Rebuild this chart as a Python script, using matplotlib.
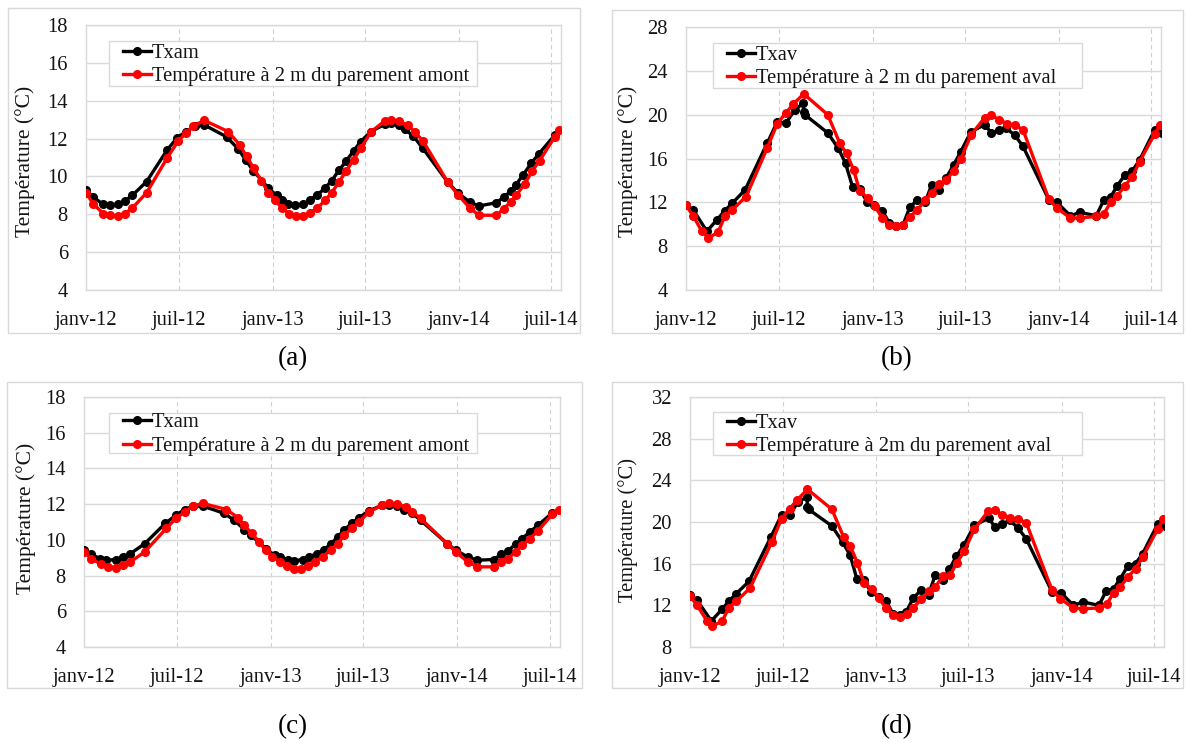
import numpy as np
import matplotlib
matplotlib.use("Agg")
import matplotlib.pyplot as plt
import matplotlib.dates as mdates
from matplotlib.patches import Rectangle
from matplotlib.ticker import FuncFormatter, MultipleLocator

plt.rcParams["font.family"] = ["Liberation Serif", "DejaVu Serif"]

# ---- data: days counted from 1 Jan 2012, temperatures in degC ----
# (a) upstream face, case 1
a_txam_days = [0, 14, 34, 47, 63, 76, 91, 119, 159, 178, 196, 214, 232, 276, 299, 313, 328, 358,
               374, 384, 397, 410, 426, 439, 454, 469, 482, 497, 511, 525, 539, 559, 586, 599,
               614, 625, 642, 661, 710, 730, 753, 771, 805, 820, 833, 844, 858, 874, 889, 920]
a_txam = [9.26, 8.91, 8.52, 8.47, 8.52, 8.70, 9.00, 9.73, 11.39, 12.02, 12.37, 12.66, 12.72, 12.09,
          11.44, 10.88, 10.31, 9.38, 9.00, 8.77, 8.52, 8.47, 8.52, 8.77, 9.03, 9.38, 9.78, 10.34,
          10.83, 11.35, 11.84, 12.37, 12.75, 12.80, 12.72, 12.49, 12.14, 11.48, 9.69, 9.12, 8.65,
          8.44, 8.61, 8.91, 9.21, 9.57, 10.10, 10.71, 11.21, 12.19]
a_amont_days = [0, 14, 34, 47, 63, 76, 91, 119, 159, 181, 196, 210, 232, 279, 302, 315, 329, 344,
                358, 371, 385, 399, 413, 426, 439, 454, 469, 482, 497, 511, 525, 539, 559, 586,
                599, 614, 632, 645, 661, 710, 730, 753, 771, 805, 820, 833, 844, 861, 876, 890,
                920, 929]
a_amont = [9.14, 8.56, 8.03, 7.95, 7.91, 8.03, 8.33, 9.14, 10.97, 11.88, 12.28, 12.66, 12.96, 12.37,
           11.65, 11.06, 10.43, 9.78, 9.14, 8.73, 8.33, 8.03, 7.91, 7.91, 8.07, 8.33, 8.73, 9.14,
           9.73, 10.31, 10.88, 11.48, 12.35, 12.93, 12.98, 12.93, 12.70, 12.35, 11.88, 9.69, 9.03,
           8.33, 7.95, 7.95, 8.30, 8.65, 9.00, 9.61, 10.31, 10.83, 12.10, 12.45]

# (b) downstream face, case 1
b_txav_days = [0, 14, 41, 61, 76, 91, 116, 159, 179, 196, 214, 230, 231, 233, 278, 299, 313, 327,
               341, 356, 369, 385, 399, 412, 426, 439, 454, 469, 482, 497, 510, 525, 539, 559,
               586, 599, 614, 627, 645, 661, 712, 728, 754, 773, 805, 820, 833, 846, 861, 876,
               890, 920, 933]
b_txav = [11.72, 11.32, 9.36, 10.42, 11.23, 11.93, 13.14, 17.37, 19.33, 19.24, 20.45, 21.06, 20.24,
          20.00, 18.34, 16.92, 15.56, 13.38, 13.20, 11.99, 11.78, 11.23, 10.12, 9.81, 9.96, 11.54,
          12.23, 11.99, 13.59, 13.14, 14.20, 15.40, 16.61, 18.43, 19.09, 18.34, 18.58, 18.82,
          18.13, 17.13, 12.23, 11.99, 10.78, 11.08, 10.78, 12.23, 12.47, 13.50, 14.50, 14.89,
          15.86, 18.64, 18.34]
b_aval_days = [0, 14, 31, 44, 63, 76, 91, 118, 159, 179, 196, 210, 231, 278, 302, 315, 329, 341,
               358, 371, 385, 399, 412, 426, 439, 454, 469, 482, 497, 511, 525, 539, 559, 586,
               599, 614, 630, 645, 661, 712, 728, 754, 773, 805, 820, 833, 846, 861, 876, 890,
               920, 931]
b_aval = [11.72, 10.78, 9.36, 8.75, 9.27, 10.72, 11.32, 12.53, 16.92, 19.18, 20.15, 20.94, 21.90,
          20.00, 17.37, 16.46, 14.95, 12.99, 12.38, 11.63, 10.57, 9.96, 9.81, 9.96, 10.66, 11.32,
          12.17, 12.84, 13.68, 14.04, 14.89, 15.92, 18.13, 19.73, 19.94, 19.55, 19.18, 19.03,
          18.64, 12.29, 11.47, 10.57, 10.57, 10.72, 10.96, 11.99, 12.59, 13.50, 14.35, 15.71,
          18.28, 19.09]

# (c) upstream face, case 2
c_txam_days = [0, 14, 31, 44, 63, 76, 91, 119, 159, 180, 197, 213, 233, 275, 294, 314, 327, 356,
               373, 383, 399, 412, 428, 441, 456, 470, 483, 497, 509, 524, 539, 558, 584, 597,
               612, 627, 643, 659, 711, 728, 751, 770, 803, 817, 830, 845, 858, 873, 889, 917]
c_txam = [9.42, 9.20, 8.95, 8.86, 8.90, 9.05, 9.23, 9.79, 10.92, 11.38, 11.70, 11.89, 11.89, 11.48,
          11.10, 10.58, 10.26, 9.51, 9.14, 9.05, 8.90, 8.82, 8.90, 9.05, 9.23, 9.46, 9.76, 10.17,
          10.54, 10.92, 11.25, 11.63, 11.94, 11.98, 11.89, 11.70, 11.48, 11.10, 9.79, 9.42, 9.05,
          8.86, 8.90, 9.20, 9.38, 9.76, 10.07, 10.45, 10.82, 11.51]
c_amont_days = [0, 14, 33, 47, 63, 76, 91, 119, 161, 180, 197, 213, 233, 279, 301, 314, 328, 343,
                356, 369, 384, 397, 412, 425, 438, 452, 467, 483, 497, 509, 524, 539, 558, 584,
                597, 612, 630, 643, 659, 711, 728, 751, 770, 803, 817, 830, 845, 858, 873, 889,
                917, 930]
c_amont = [9.33, 8.95, 8.64, 8.49, 8.45, 8.58, 8.77, 9.33, 10.64, 11.20, 11.57, 11.89, 12.04, 11.70,
           11.25, 10.82, 10.36, 9.89, 9.42, 9.05, 8.77, 8.52, 8.39, 8.39, 8.52, 8.77, 9.05, 9.42,
           9.79, 10.26, 10.64, 11.01, 11.57, 11.94, 12.04, 12.00, 11.85, 11.57, 11.20, 9.79, 9.33,
           8.77, 8.49, 8.49, 8.77, 8.95, 9.33, 9.70, 10.07, 10.50, 11.44, 11.70]

# (d) downstream face, case 2
d_txav_days = [0, 14, 42, 63, 76, 91, 116, 159, 180, 196, 212, 230, 231, 233, 279, 300, 315, 328,
               342, 356, 371, 386, 399, 412, 425, 439, 454, 469, 482, 497, 510, 524, 539, 559,
               588, 599, 614, 629, 645, 661, 712, 729, 754, 773, 804, 818, 833, 846, 861, 876,
               890, 920, 933]
d_txav = [13.02, 12.48, 10.50, 11.62, 12.38, 13.12, 14.30, 18.56, 20.70, 20.64, 21.92, 22.40, 21.44,
          21.22, 19.62, 18.08, 16.80, 14.56, 14.40, 13.28, 12.80, 12.38, 11.20, 11.04, 11.36,
          12.70, 13.44, 13.02, 14.88, 14.40, 15.46, 16.74, 17.82, 19.68, 20.38, 19.52, 19.84,
          20.16, 19.42, 18.40, 13.28, 13.22, 12.00, 12.32, 12.00, 13.34, 13.60, 14.56, 15.78,
          16.00, 16.96, 19.84, 19.62]
d_aval_days = [0, 14, 34, 44, 63, 76, 91, 118, 161, 180, 196, 210, 231, 279, 302, 315, 329, 342,
               358, 371, 385, 399, 412, 426, 439, 454, 469, 482, 497, 511, 525, 539, 559, 586,
               599, 614, 630, 645, 661, 712, 728, 754, 773, 805, 820, 833, 846, 861, 876, 890,
               920, 931]
d_aval = [12.90, 12.00, 10.46, 10.02, 10.46, 11.74, 12.38, 13.66, 18.08, 20.32, 21.28, 22.08, 23.14,
          21.22, 18.56, 17.70, 16.10, 14.18, 13.54, 12.70, 11.78, 11.10, 10.88, 11.20, 11.74, 12.58,
          13.34, 13.76, 14.78, 14.88, 16.10, 17.18, 19.30, 21.02, 21.12, 20.70, 20.38, 20.26,
          19.94, 13.44, 12.64, 11.74, 11.68, 11.74, 12.16, 13.22, 13.76, 14.72, 15.52, 16.64,
          19.36, 20.26]

panel_letters = ["(a)", "(b)", "(c)", "(d)"]
ylabel_text = "Température (°C)"
y_ranges = [(4, 18, 2), (4, 28, 4), (4, 18, 2), (8, 32, 4)]
legend_labels = [
    ("Txam", "Température à 2 m du parement amont"),
    ("Txav", "Température à 2 m du parement aval"),
    ("Txam", "Température à 2 m du parement amont"),
    ("Txav", "Température à 2m du parement aval"),
]
series = [
    (a_txam_days, a_txam, a_amont_days, a_amont),
    (b_txav_days, b_txav, b_aval_days, b_aval),
    (c_txam_days, c_txam, c_amont_days, c_amont),
    (d_txav_days, d_txav, d_aval_days, d_aval),
]

START = np.datetime64("2012-01-01")
END_DAY = 932
MONTHS_FR = {1: "janv", 7: "juil"}

W, H = 1186, 742
fig = plt.figure(figsize=(W / 100, H / 100), dpi=100)


def fx(px):
    return px / W


def fy(py):
    return 1 - py / H


# layout in pixels: plot area (left, top, right, bottom), outer frame, legend box, ylabel centre
layouts = [
    dict(plot=(86, 25, 561, 290), frame=(8, 8, 580, 333), leg=(109, 41, 477, 86), ylab=(25, 161), letter=(293, 359), ylfs=15.5),
    dict(plot=(686, 27, 1161, 290), frame=(612, 10, 1183, 333), leg=(713, 43, 1082, 88), ylab=(628, 161), letter=(897, 359), ylfs=15.5),
    dict(plot=(84, 397, 560, 647), frame=(7, 382, 582, 688), leg=(109, 413, 477, 453), ylab=(26, 518), letter=(293, 727), ylfs=15.5),
    dict(plot=(690, 397, 1164, 647), frame=(612, 382, 1183, 688), leg=(713, 412, 1082, 455), ylab=(628, 530), letter=(897, 727), ylfs=14.8),
]

GRID = "#d9d9d9"
TEXT = "#141414"
FS = 14.8


def month_label(x, pos):
    d = mdates.num2date(x)
    return f"{MONTHS_FR.get(d.month, '')}-{d.year % 100:02d}"


for i, lay in enumerate(layouts):
    # outer chart frame
    x0, y0, x1, y1 = lay["frame"]
    fig.patches.append(Rectangle((fx(x0), fy(y1)), fx(x1 - x0), (y1 - y0) / H,
                                 transform=fig.transFigure, facecolor="none",
                                 edgecolor=GRID, linewidth=1.0, zorder=-1))

    l, t, r, b = lay["plot"]
    ax = fig.add_axes([fx(l), fy(b), fx(r - l), (b - t) / H])
    ax.set_zorder(2)
    ax.set_facecolor("none")

    d1, v1, d2, v2 = series[i]
    x1d = START + np.array(d1, dtype="timedelta64[D]")
    x2d = START + np.array(d2, dtype="timedelta64[D]")
    ln1, = ax.plot(x1d, v1, color="black", lw=2.4, marker="o", ms=5.5, zorder=3)
    ln2, = ax.plot(x2d, v2, color="#ff0000", lw=2.4, marker="o", ms=5.5, zorder=4)

    ymin, ymax, step = y_ranges[i]
    ax.set_ylim(ymin, ymax)
    ax.yaxis.set_major_locator(MultipleLocator(step))
    ax.set_xlim(START, START + np.timedelta64(END_DAY, "D"))
    ax.xaxis.set_major_locator(mdates.MonthLocator(bymonth=(1, 7)))
    ax.xaxis.set_major_formatter(FuncFormatter(month_label))

    ax.grid(axis="y", color=GRID, lw=1.0, zorder=0)
    ax.grid(axis="x", color="#cfcfcf", lw=0.8, linestyle=(0, (4, 3)), zorder=0)
    ax.set_axisbelow(True)
    for s in ax.spines.values():
        s.set_color(GRID)
        s.set_linewidth(1.0)
    ax.tick_params(length=0, labelsize=FS, colors=TEXT)
    ax.tick_params(axis="y", pad=13)
    ax.tick_params(axis="x", pad=15)

    # legend box
    lx0, ly0, lx1, ly1 = lay["leg"]
    box = Rectangle(((lx0 - l) / (r - l), (b - ly1) / (b - t)),
                    (lx1 - lx0) / (r - l), (ly1 - ly0) / (b - t),
                    transform=ax.transAxes, facecolor="white", edgecolor=GRID,
                    linewidth=1.0, zorder=5)
    ax.add_patch(box)
    leg = ax.legend([ln1, ln2], legend_labels[i], loc="center left",
                    bbox_to_anchor=((lx0 + 14 - l) / (r - l), (b - (ly0 + ly1) / 2 - 1.5) / (b - t)),
                    frameon=False, fontsize=FS, handlelength=1.35, handletextpad=0.05,
                    labelspacing=0.2, borderpad=0, borderaxespad=0, numpoints=1)
    leg.set_zorder(6)
    for txt in leg.get_texts():
        txt.set_color(TEXT)

    # y label
    yx, yy = lay["ylab"]
    fig.text(fx(yx), fy(yy), ylabel_text, rotation=90, ha="center", va="center",
             fontsize=lay["ylfs"], color=TEXT)

    # panel letter
    px, py = lay["letter"]
    fig.text(fx(px), fy(py), panel_letters[i], ha="center", va="center",
             fontsize=19.5, color="black")

fig.savefig("out.png", dpi=100, facecolor="white")
